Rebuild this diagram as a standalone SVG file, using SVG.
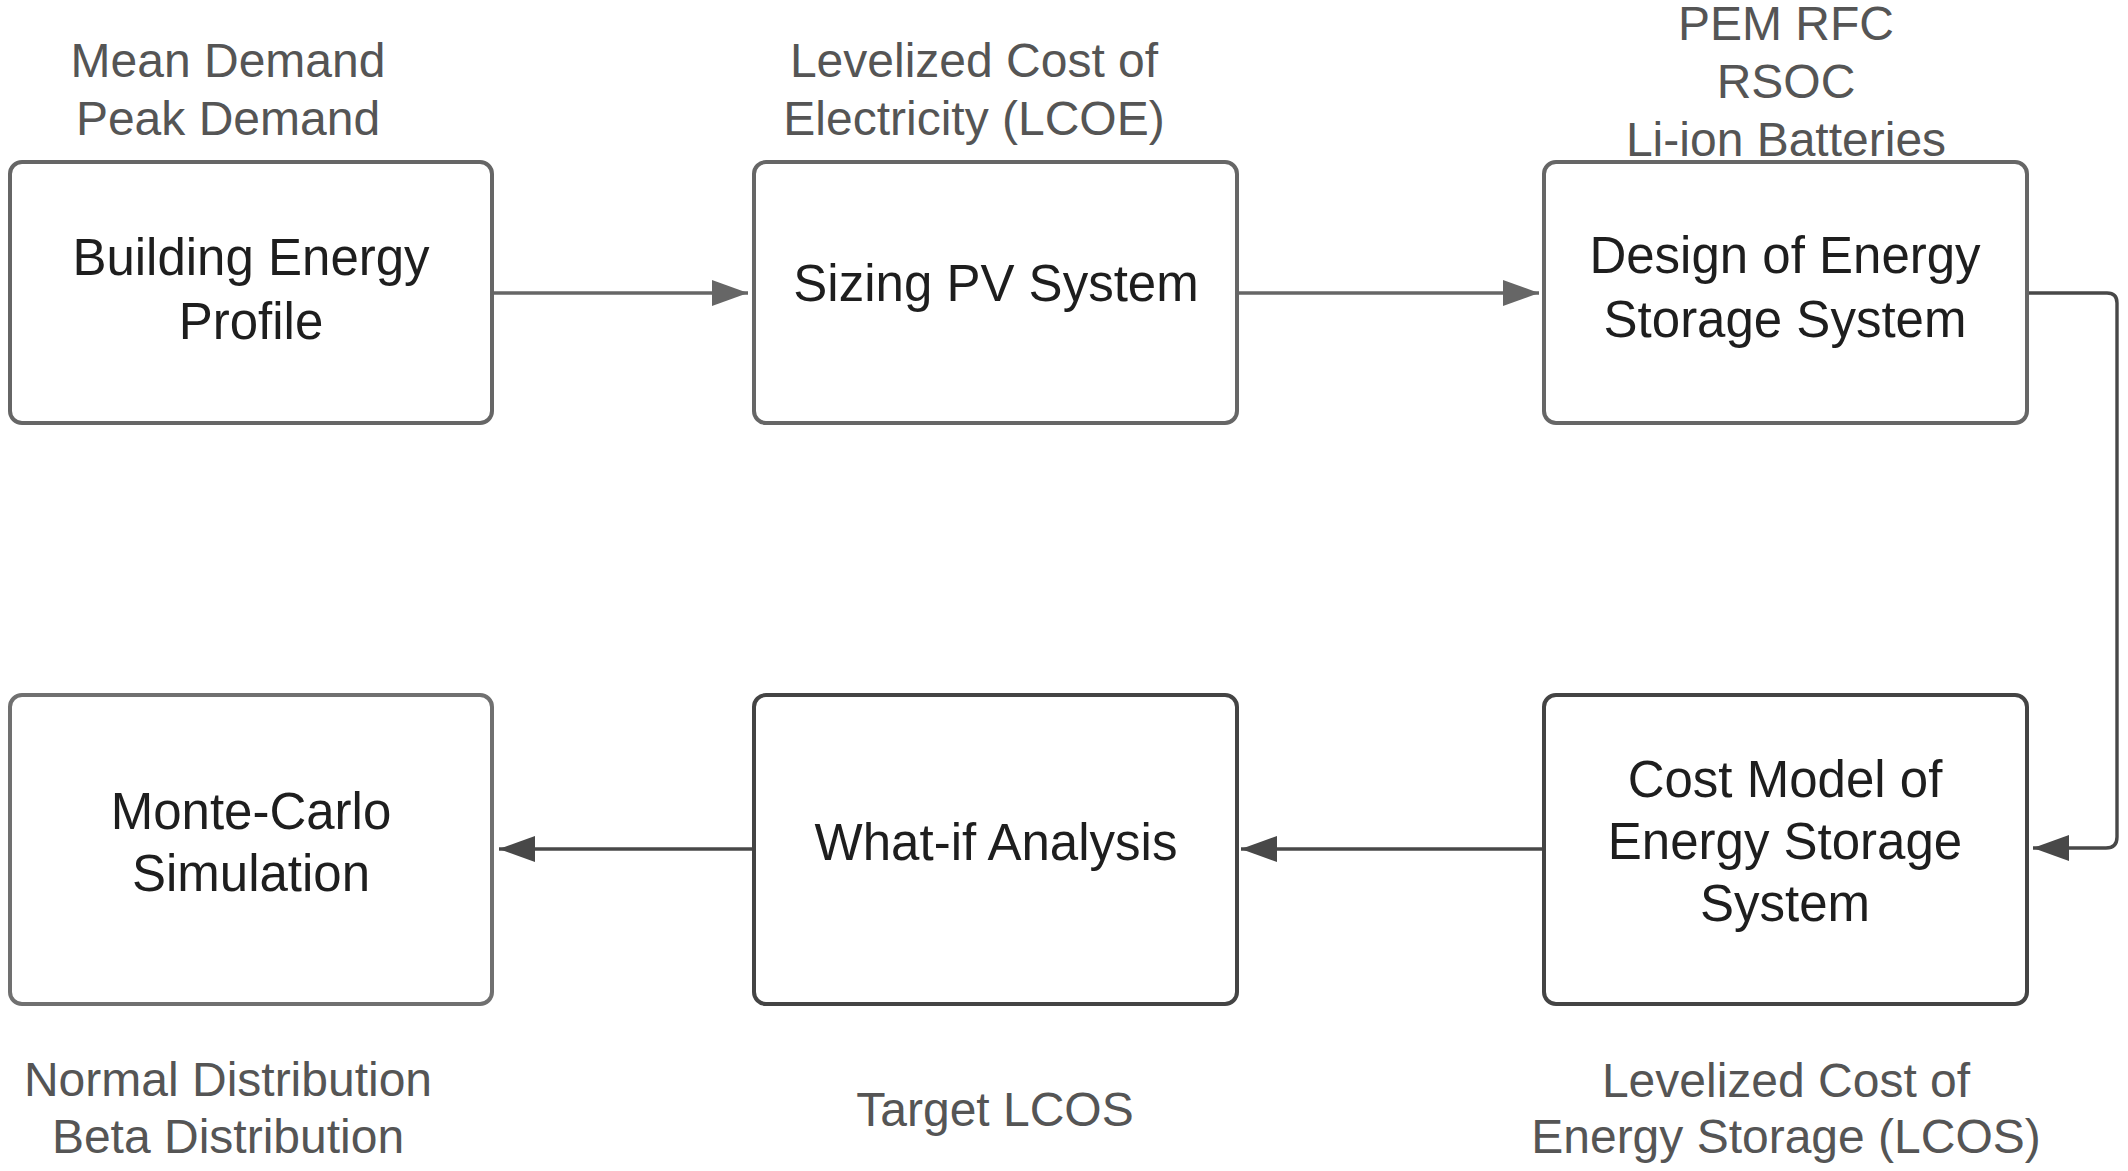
<svg xmlns="http://www.w3.org/2000/svg" width="2128" height="1171" viewBox="0 0 2128 1171">
<defs>
<style>
.box{fill:#fff;stroke:#666;stroke-width:4}
.dark{stroke:#444}
.light{stroke:#707070}
.lbl{font-family:"Liberation Sans",Arial,sans-serif;font-size:51px;fill:#1e1e1e;text-anchor:middle}
.ann{font-family:"Liberation Sans",Arial,sans-serif;font-size:48px;fill:#555;text-anchor:middle}
.con{fill:none;stroke:#666;stroke-width:3.4}
.con.dk{stroke:#484848}
</style>
<marker id="ah" viewBox="0 0 36 26" refX="36" refY="13" markerWidth="36" markerHeight="26" markerUnits="userSpaceOnUse" orient="auto">
<path d="M0,0 L36,13 L0,26 Z" fill="#666"/>
</marker>
<marker id="ahd" viewBox="0 0 36 26" refX="36" refY="13" markerWidth="36" markerHeight="26" markerUnits="userSpaceOnUse" orient="auto">
<path d="M0,0 L36,13 L0,26 Z" fill="#484848"/>
</marker>
</defs>
<rect width="2128" height="1171" fill="#fff"/>

<g id="connectors">
<line class="con" x1="492" y1="293" x2="748" y2="293" marker-end="url(#ah)"/>
<line class="con" x1="1237" y1="293" x2="1539" y2="293" marker-end="url(#ah)"/>
<path class="con dk" d="M2027,293 H2107 Q2117,293 2117,303 V837 Q2117,848 2106,848 H2033" marker-end="url(#ahd)"/>
<line class="con dk" x1="1544" y1="849" x2="1241" y2="849" marker-end="url(#ahd)"/>
<line class="con dk" x1="754" y1="849" x2="499" y2="849" marker-end="url(#ahd)"/>
</g>

<g id="building-energy-profile">
<rect class="box" x="10" y="162" width="482" height="261" rx="12"/>
<text class="lbl" x="251" y="275">Building Energy</text>
<text class="lbl" x="251" y="339">Profile</text>
<text class="ann" x="228" y="77">Mean Demand</text>
<text class="ann" x="228" y="135">Peak Demand</text>
</g>

<g id="sizing-pv-system">
<rect class="box" x="754" y="162" width="483" height="261" rx="12"/>
<text class="lbl" x="996" y="301">Sizing PV System</text>
<text class="ann" x="974" y="77">Levelized Cost of</text>
<text class="ann" x="974" y="135">Electricity (LCOE)</text>
</g>

<g id="design-ess">
<rect class="box" x="1544" y="162" width="483" height="261" rx="12"/>
<text class="lbl" x="1785" y="273">Design of Energy</text>
<text class="lbl" x="1785" y="337">Storage System</text>
<text class="ann" x="1786" y="40">PEM RFC</text>
<text class="ann" x="1786" y="98">RSOC</text>
<text class="ann" x="1786" y="156">Li-ion Batteries</text>
</g>

<g id="monte-carlo">
<rect class="box light" x="10" y="695" width="482" height="309" rx="12"/>
<text class="lbl" x="251" y="829">Monte-Carlo</text>
<text class="lbl" x="251" y="891">Simulation</text>
<text class="ann" x="228" y="1096">Normal Distribution</text>
<text class="ann" x="228" y="1153">Beta Distribution</text>
</g>

<g id="what-if">
<rect class="box dark" x="754" y="695" width="483" height="309" rx="12"/>
<text class="lbl" x="996" y="860">What-if Analysis</text>
<text class="ann" x="995" y="1126">Target LCOS</text>
</g>

<g id="cost-model">
<rect class="box dark" x="1544" y="695" width="483" height="309" rx="12"/>
<text class="lbl" x="1785" y="797">Cost Model of</text>
<text class="lbl" x="1785" y="859">Energy Storage</text>
<text class="lbl" x="1785" y="921">System</text>
<text class="ann" x="1786" y="1097">Levelized Cost of</text>
<text class="ann" x="1786" y="1153">Energy Storage (LCOS)</text>
</g>
</svg>
